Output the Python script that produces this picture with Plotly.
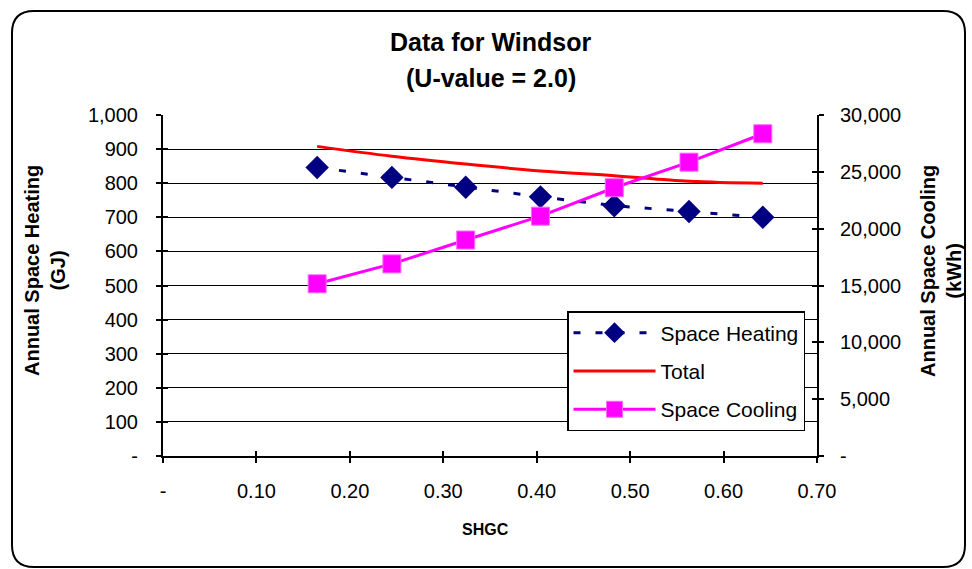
import plotly.graph_objects as go

# ---- data ----
shgc = [0.165, 0.245, 0.324, 0.404, 0.483, 0.563, 0.642]
space_heating = [846, 817, 788, 760, 734, 717, 700]          # GJ (left axis)
total = [908, 879, 856, 836, 822, 806, 800]                  # GJ (left axis)
space_cooling = [15150, 16900, 19000, 21100, 23600, 25850, 28350]  # kWh (right axis)

x_ticks = [0, 0.1, 0.2, 0.3, 0.4, 0.5, 0.6, 0.7]
x_ticktext = ["-", "0.10", "0.20", "0.30", "0.40", "0.50", "0.60", "0.70"]
y_ticks = list(range(0, 1001, 100))
y_ticktext = ["-", "100", "200", "300", "400", "500", "600", "700", "800", "900", "1,000"]
y2_ticks = list(range(0, 30001, 5000))
y2_ticktext = ["-", "5,000", "10,000", "15,000", "20,000", "25,000", "30,000"]

W, H = 972, 569
L, R, T, B = 163, 155, 115, 113
PW, PH = W - L - R, H - T - B

def px(xp):
    return (xp - L) / PW

def py(yp):
    return (H - B - yp) / PH

FONT = "Liberation Sans, Arial, sans-serif"

fig = go.Figure()
fig.add_trace(go.Scatter(
    x=shgc, y=space_heating, name="Space Heating", legendgroup="a",
    mode="lines+markers",
    line=dict(color="#000080", width=3, dash="7px,15px"),
    marker=dict(symbol="diamond", size=18, color="#000080"),
))
fig.add_trace(go.Scatter(
    x=shgc, y=total, name="Total", legendgroup="b",
    mode="lines", line=dict(color="#FF0000", width=3, shape="spline"),
))
fig.add_trace(go.Scatter(
    x=shgc, y=space_cooling, name="Space Cooling", legendgroup="c", yaxis="y2",
    mode="lines+markers",
    line=dict(color="#FF00FF", width=3),
    marker=dict(symbol="square", size=18, color="#FF00FF",
                line=dict(color="#FF66FF", width=1)),
))
# invisible traces that carry inner tick marks (cross ticks)
fig.add_trace(go.Scatter(x=[None], y=[None], xaxis="x3", yaxis="y3",
                         showlegend=False, hoverinfo="skip"))
fig.add_trace(go.Scatter(x=[None], y=[None], xaxis="x3", yaxis="y4",
                         showlegend=False, hoverinfo="skip"))

tickfont = dict(family=FONT, size=20, color="#000")

fig.update_layout(
    width=W, height=H,
    margin=dict(l=L, r=R, t=T, b=B),
    paper_bgcolor="white", plot_bgcolor="white",
    showlegend=True,
    xaxis=dict(range=[0, 0.7], tickvals=x_ticks, ticktext=x_ticktext,
               ticks="outside", ticklen=5, tickwidth=1.5, tickcolor="#000",
               showline=True, linecolor="#000", linewidth=2,
               showgrid=False, zeroline=False, tickfont=tickfont,
               ticklabelstandoff=11),
    yaxis=dict(range=[0, 1000], tickvals=y_ticks, ticktext=y_ticktext,
               ticks="outside", ticklen=5, tickwidth=1.5, tickcolor="#000",
               showline=True, linecolor="#000", linewidth=2,
               showgrid=True, gridcolor="#000", gridwidth=1,
               zeroline=False, tickfont=tickfont, ticklabelstandoff=14),
    yaxis2=dict(range=[0, 30000], tickvals=y2_ticks, ticktext=y2_ticktext,
                overlaying="y", side="right",
                ticks="outside", ticklen=5, tickwidth=1.5, tickcolor="#000",
                showline=True, linecolor="#000", linewidth=2,
                showgrid=False, zeroline=False, tickfont=tickfont,
                ticklabelstandoff=12),
    xaxis3=dict(range=[0, 0.7], tickvals=x_ticks, overlaying="x",
                ticks="inside", ticklen=5, tickwidth=1.5, tickcolor="#000",
                showticklabels=False, showgrid=False, zeroline=False, showline=False),
    yaxis3=dict(range=[0, 1000], tickvals=y_ticks, overlaying="y",
                ticks="inside", ticklen=5, tickwidth=1.5, tickcolor="#000",
                showticklabels=False, showgrid=False, zeroline=False, showline=False),
    yaxis4=dict(range=[0, 30000], tickvals=y2_ticks, overlaying="y", side="right",
                ticks="inside", ticklen=5, tickwidth=1.5, tickcolor="#000",
                showticklabels=False, showgrid=False, zeroline=False, showline=False),
    legend=dict(x=px(567), y=py(311), xanchor="left", yanchor="top",
                bgcolor="white", bordercolor="#000", borderwidth=1.5,
                font=dict(family=FONT, size=21, color="#000"),
                tracegroupgap=8, itemwidth=82),
    font=dict(family=FONT, color="#000"),
)

annotations = [
    dict(text="<b>Data for Windsor</b>", x=px(491), y=py(42), font=dict(size=25)),
    dict(text="<b>(U-value = 2.0)</b>", x=px(491), y=py(78), font=dict(size=25)),
    dict(text="<b>Annual Space Heating</b><br><b>(GJ)</b>", x=px(45), y=py(271),
         textangle=-90, font=dict(size=20)),
    dict(text="<b>Annual Space Cooling</b><br><b>(kWh)</b>", x=px(941), y=py(271),
         textangle=-90, font=dict(size=20)),
    dict(text="<b>SHGC</b>", x=px(485), y=py(529), font=dict(size=16)),
]
for a in annotations:
    a.update(xref="paper", yref="paper", showarrow=False,
             xanchor="center", yanchor="middle")
    a["font"].update(family=FONT, color="#000")
fig.update_layout(annotations=annotations)

# rounded chart-area border
x0, y0, x1, y1, r = 12, 11, 965, 567, 22
path = (
    f"M {px(x0 + r)},{py(y0)} L {px(x1 - r)},{py(y0)} "
    f"Q {px(x1)},{py(y0)} {px(x1)},{py(y0 + r)} "
    f"L {px(x1)},{py(y1 - r)} Q {px(x1)},{py(y1)} {px(x1 - r)},{py(y1)} "
    f"L {px(x0 + r)},{py(y1)} Q {px(x0)},{py(y1)} {px(x0)},{py(y1 - r)} "
    f"L {px(x0)},{py(y0 + r)} Q {px(x0)},{py(y0)} {px(x0 + r)},{py(y0)} Z"
)
fig.add_shape(type="path", path=path, xref="paper", yref="paper",
              line=dict(color="#000", width=2), layer="below")

fig.write_html("out.html")
